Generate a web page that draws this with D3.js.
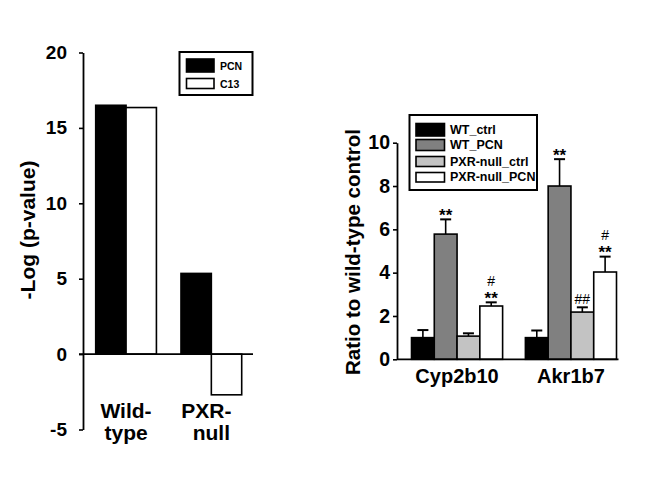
<!DOCTYPE html>
<html><head><meta charset="utf-8">
<script src="https://d3js.org/d3.v7.min.js"></script>
<style>body{margin:0;background:#fff}svg{display:block;font-family:Arial,"Liberation Sans",sans-serif}</style>
</head><body>
<svg id="c" width="651" height="492"></svg>
<script>
// Left panel data
const leftCats = ["Wild-type", "PXR-null"];
const leftCatLines = [["Wild-", "type"], ["PXR-", "null"]];
const leftSeries = ["PCN", "C13"];
const leftPCN = [16.5, 5.35];
const leftC13 = [16.35, -2.7];
const leftTicks = [-5, 0, 5, 10, 15, 20];

// Right panel data
const rightCats = ["Cyp2b10", "Akr1b7"];
const rightSeries = ["WT_ctrl", "WT_PCN", "PXR-null_ctrl", "PXR-null_PCN"];
const rightMeans = {
  "WT_ctrl": [1.0, 1.0],
  "WT_PCN": [5.78, 8.0],
  "PXR-null_ctrl": [1.07, 2.18],
  "PXR-null_PCN": [2.46, 4.03]
};
const rightErr = {
  "WT_ctrl": [0.35, 0.33],
  "WT_PCN": [0.68, 1.24],
  "PXR-null_ctrl": [0.13, 0.22],
  "PXR-null_PCN": [0.17, 0.71]
};
const rightMarks = {
  "WT_ctrl": [[], []],
  "WT_PCN": [["**"], ["**"]],
  "PXR-null_ctrl": [[], ["##"]],
  "PXR-null_PCN": [["#", "**"], ["#", "**"]]
};
const rightTicks = [0, 2, 4, 6, 8, 10];

const svg = d3.select("#c");
const fmt = d => String(d);

// ---------- Left panel ----------
(function(){
  const axX = 83, zeroX2 = 253;
  const y = d3.scaleLinear().domain([-5, 20]).range([429.5, 52.5]);
  const x0 = d3.scaleBand().domain(leftCats).range([95.7, 241.7]).paddingInner(0.288);
  const x1 = d3.scaleBand().domain(leftSeries).range([0, x0.bandwidth()]);
  const fills = {PCN: "#000", C13: "#fff"};
  const vals = {PCN: leftPCN, C13: leftC13};
  const g = svg.append("g");
  leftSeries.forEach(s => {
    leftCats.forEach((c, i) => {
      const v = vals[s][i];
      g.append("rect")
        .attr("x", x0(c) + x1(s)).attr("width", x1.bandwidth())
        .attr("y", y(Math.max(0, v))).attr("height", Math.abs(y(v) - y(0)))
        .attr("fill", fills[s]).attr("stroke", "#000").attr("stroke-width", 1.6);
    });
  });
  const ax = g.append("g").attr("transform", `translate(${axX},0)`)
    .call(d3.axisLeft(y).tickValues(leftTicks).tickFormat(fmt).tickSize(4).tickPadding(12).tickSizeOuter(0));
  ax.select(".domain").attr("stroke-width", 1.8);
  ax.selectAll(".tick line").attr("stroke-width", 1.6);
  ax.selectAll("text").attr("font-size", 19).attr("font-weight", "bold").attr("fill", "#000");
  g.append("line").attr("x1", axX - 4).attr("x2", zeroX2).attr("y1", y(0)).attr("y2", y(0))
    .attr("stroke", "#000").attr("stroke-width", 1.8);
  g.append("text").attr("transform", `translate(27,230) rotate(-90)`)
    .attr("text-anchor", "middle").attr("dominant-baseline", "central")
    .attr("font-size", 21).attr("font-weight", "bold").text("-Log (p-value)");
  leftCats.forEach((c, i) => {
    const cx = x0(c) + x0.bandwidth() / 2;
    leftCatLines[i].forEach((t, j) => {
      g.append("text").attr("x", cx + (i === 1 && j === 0 ? -5 : 0)).attr("y", 418 + j * 22)
        .attr("text-anchor", "middle").attr("font-size", 21).attr("font-weight", "bold").text(t);
    });
  });
  // legend
  const lg = g.append("g");
  lg.append("rect").attr("x", 179.5).attr("y", 52).attr("width", 73).attr("height", 43)
    .attr("fill", "#fff").attr("stroke", "#000").attr("stroke-width", 2);
  leftSeries.forEach((s, i) => {
    const yy = [59, 78.5][i], hh = [13, 10][i];
    lg.append("rect").attr("x", 186.5).attr("y", yy).attr("width", 27.5).attr("height", hh)
      .attr("fill", fills[s]).attr("stroke", "#000").attr("stroke-width", 1.6);
    lg.append("text").attr("x", 220).attr("y", yy + hh / 2).attr("dominant-baseline", "central")
      .attr("font-size", 10.5).attr("font-weight", "bold").text(s);
  });
})();

// ---------- Right panel ----------
(function(){
  const axX = 397, axEnd = 618.5;
  const y = d3.scaleLinear().domain([0, 10]).range([359.3, 142.7]);
  const x0 = d3.scaleBand().domain(rightCats).range([411.5, 616.5]).paddingInner(0.2);
  const x1 = d3.scaleBand().domain(rightSeries).range([0, x0.bandwidth()]);
  const fills = {"WT_ctrl": "#000", "WT_PCN": "#808080", "PXR-null_ctrl": "#c3c3c3", "PXR-null_PCN": "#fff"};
  const g = svg.append("g");
  rightSeries.forEach(s => {
    rightCats.forEach((c, i) => {
      const v = rightMeans[s][i], e = rightErr[s][i];
      const bx = x0(c) + x1(s), cx = bx + x1.bandwidth() / 2;
      g.append("line").attr("x1", cx).attr("x2", cx).attr("y1", y(v)).attr("y2", y(v + e))
        .attr("stroke", "#000").attr("stroke-width", 1.6);
      g.append("line").attr("x1", cx - 5.5).attr("x2", cx + 5.5).attr("y1", y(v + e)).attr("y2", y(v + e))
        .attr("stroke", "#000").attr("stroke-width", 2);
      g.append("rect").attr("x", bx).attr("width", x1.bandwidth())
        .attr("y", y(v)).attr("height", y(0) - y(v))
        .attr("fill", fills[s]).attr("stroke", "#000").attr("stroke-width", 1.6);
      const marks = rightMarks[s][i];
      marks.slice().reverse().forEach((m, k) => {
        const top = y(v + e);
        const isStar = m.indexOf("*") >= 0;
        const cy = top - 8 - k * 13.5;
        g.append("text").attr("x", cx).attr("y", cy + (isStar ? 9.5 : 5))
          .attr("text-anchor", "middle").attr("font-size", isStar ? 17 : 14)
          .attr("font-family", "'Liberation Sans', Arial, sans-serif")
          .attr("font-weight", isStar ? "600" : "normal").text(m);
      });
    });
  });
  const ax = g.append("g").attr("transform", `translate(${axX},0)`)
    .call(d3.axisLeft(y).tickValues(rightTicks).tickFormat(fmt).tickSize(4).tickPadding(3).tickSizeOuter(0));
  ax.select(".domain").attr("stroke-width", 1.8);
  ax.selectAll(".tick line").attr("stroke-width", 1.6);
  ax.selectAll("text").attr("font-size", 19.5).attr("font-weight", "bold").attr("fill", "#000");
  g.append("line").attr("x1", axX).attr("x2", axEnd).attr("y1", y(0)).attr("y2", y(0))
    .attr("stroke", "#000").attr("stroke-width", 1.8);
  g.append("text").attr("transform", `translate(352,252) rotate(-90)`)
    .attr("text-anchor", "middle").attr("dominant-baseline", "central")
    .attr("font-size", 20.5).attr("font-weight", "bold").text("Ratio to wild-type control");
  rightCats.forEach(c => {
    g.append("text").attr("x", x0(c) + x0.bandwidth() / 2).attr("y", 382.5)
      .attr("text-anchor", "middle").attr("font-size", 20).attr("font-weight", "bold").text(c);
  });
  const lg = g.append("g");
  lg.append("rect").attr("x", 409.5).attr("y", 115).attr("width", 127.5).attr("height", 75)
    .attr("fill", "#fff").attr("stroke", "#000").attr("stroke-width", 2);
  const rows = [[123.5, 12.5], [139.5, 11], [156.5, 10], [172.5, 9.5]];
  rightSeries.forEach((s, i) => {
    const [yy, hh] = rows[i];
    lg.append("rect").attr("x", 416).attr("y", yy).attr("width", 28.5).attr("height", hh)
      .attr("fill", fills[s]).attr("stroke", "#000").attr("stroke-width", 1.6);
    lg.append("text").attr("x", 450).attr("y", yy + hh / 2).attr("dominant-baseline", "central")
      .attr("font-size", 12.5).attr("font-weight", "bold").text(s);
  });
})();
</script>
</body></html>
